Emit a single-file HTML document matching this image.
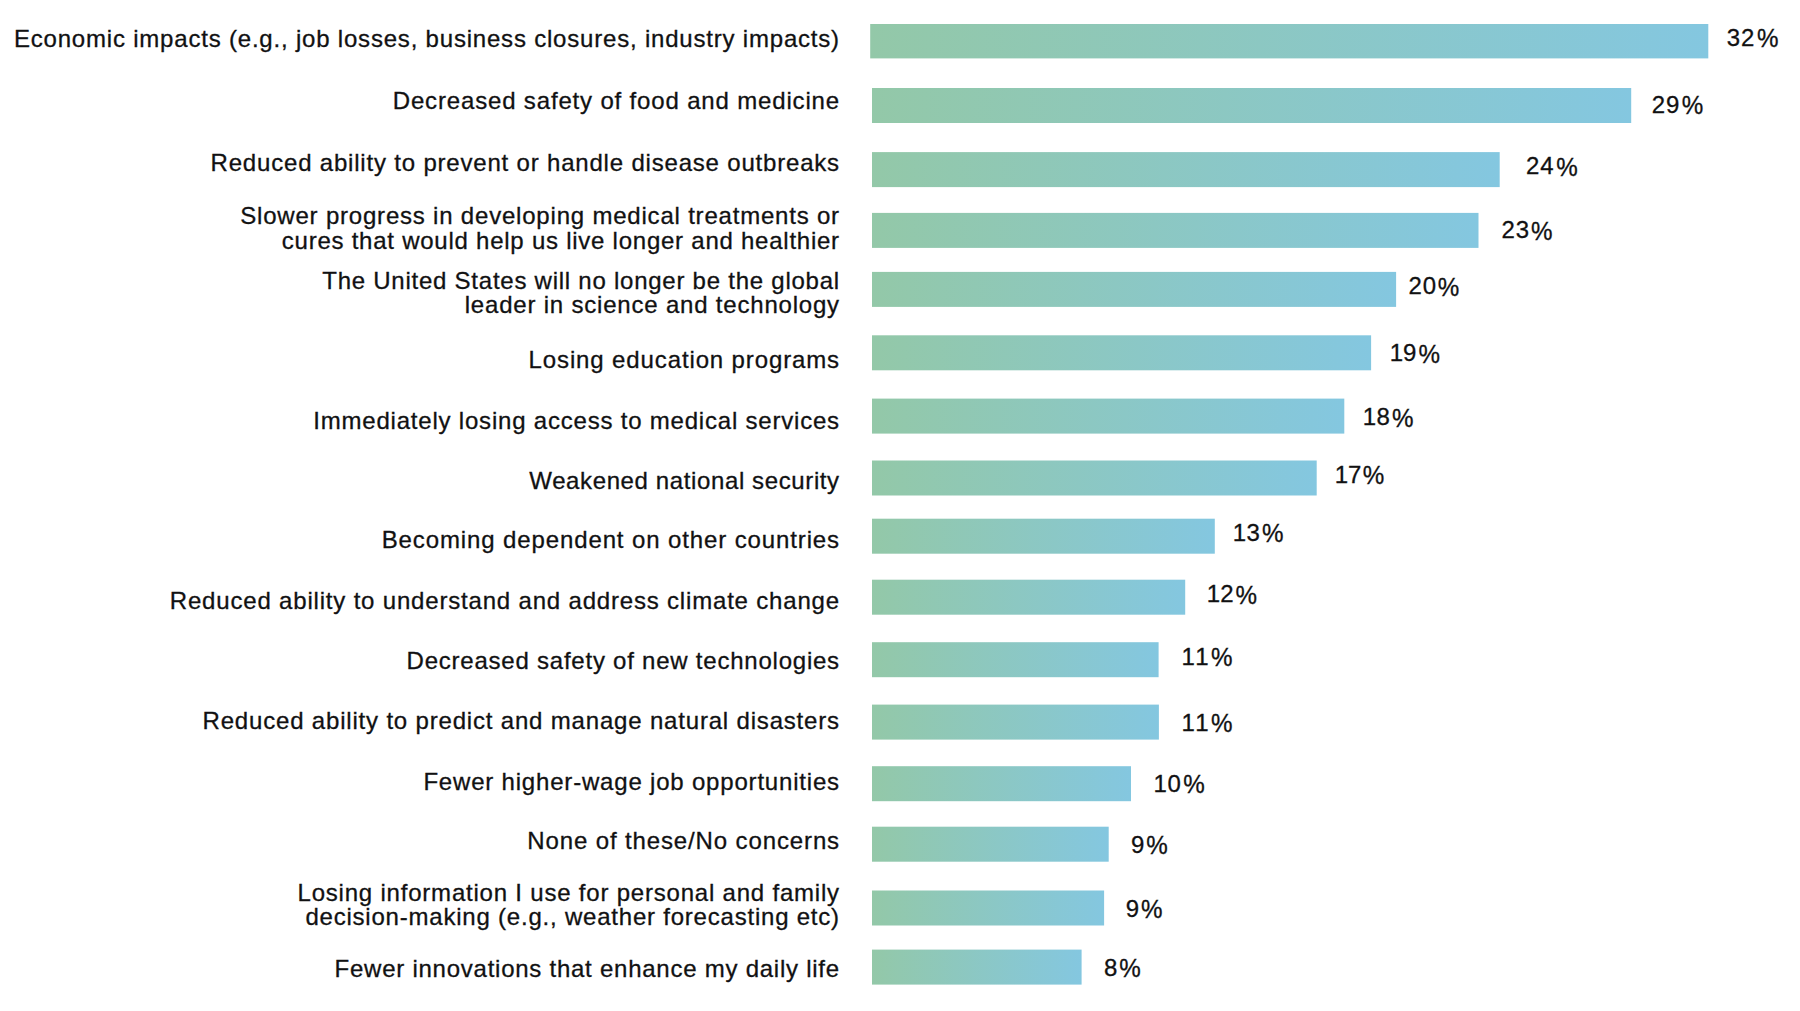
<!DOCTYPE html>
<html lang="en">
<head>
<meta charset="utf-8">
<title>Concerns chart</title>
<style>
html,body{margin:0;padding:0;background:#fff;}
body{width:1800px;height:1011px;position:relative;overflow:hidden;font-family:"Liberation Sans",sans-serif;color:#111112;-webkit-text-stroke:0.3px #111112;}
svg{position:absolute;left:0;top:0;}
.l{position:absolute;white-space:nowrap;text-align:right;font-size:24px;line-height:24px;}
.p{position:absolute;white-space:nowrap;font-size:24px;line-height:24px;letter-spacing:0.9px;-webkit-text-stroke:0.3px #111112;transform:scaleY(1.03);transform-origin:0 20.3px;}
.p i{display:inline-block;font-style:normal;font-size:24.2px;margin-left:0.9px;transform:translateY(0.7px) scaleY(1.07);transform-origin:50% 50%;}
.p b{font-weight:normal;}
</style>
</head>
<body>
<svg width="1800" height="1011" viewBox="0 0 1800 1011">
<defs><linearGradient id="g" x1="0" y1="0" x2="1" y2="0"><stop offset="0" stop-color="#93c8a8"/><stop offset="1" stop-color="#84c7e0"/></linearGradient></defs>
<rect x="870.20" y="24.00" width="838.10" height="34.40" fill="url(#g)"/>
<rect x="872.00" y="88.00" width="759.20" height="35.00" fill="url(#g)"/>
<rect x="872.00" y="152.10" width="627.70" height="35.00" fill="url(#g)"/>
<rect x="872.00" y="212.90" width="606.50" height="35.00" fill="url(#g)"/>
<rect x="872.00" y="271.90" width="524.10" height="35.00" fill="url(#g)"/>
<rect x="872.00" y="335.30" width="499.10" height="35.00" fill="url(#g)"/>
<rect x="872.00" y="398.60" width="472.30" height="35.00" fill="url(#g)"/>
<rect x="872.00" y="460.50" width="444.70" height="35.00" fill="url(#g)"/>
<rect x="872.00" y="518.70" width="342.80" height="35.00" fill="url(#g)"/>
<rect x="872.00" y="579.70" width="313.20" height="35.00" fill="url(#g)"/>
<rect x="872.00" y="642.20" width="286.60" height="35.00" fill="url(#g)"/>
<rect x="872.00" y="704.60" width="286.90" height="35.00" fill="url(#g)"/>
<rect x="872.00" y="766.20" width="259.00" height="35.00" fill="url(#g)"/>
<rect x="872.00" y="826.70" width="236.70" height="35.00" fill="url(#g)"/>
<rect x="872.00" y="890.50" width="232.10" height="35.00" fill="url(#g)"/>
<rect x="872.00" y="949.60" width="209.60" height="35.00" fill="url(#g)"/>
</svg>
<div class="l" style="top:26.58px;right:960.10px;letter-spacing:0.801px">Economic impacts (e.g., job losses, business closures, industry impacts)</div>
<div class="l" style="top:88.78px;right:960.06px;letter-spacing:0.836px">Decreased safety of food and medicine</div>
<div class="l" style="top:151.18px;right:960.09px;letter-spacing:0.808px">Reduced ability to prevent or handle disease outbreaks</div>
<div class="l" style="top:204.08px;right:960.10px;letter-spacing:0.798px">Slower progress in developing medical treatments or</div>
<div class="l" style="top:228.58px;right:960.14px;letter-spacing:0.755px">cures that would help us live longer and healthier</div>
<div class="l" style="top:269.08px;right:960.15px;letter-spacing:0.753px">The United States will no longer be the global</div>
<div class="l" style="top:292.98px;right:960.10px;letter-spacing:0.800px">leader in science and technology</div>
<div class="l" style="top:347.58px;right:960.02px;letter-spacing:0.875px">Losing education programs</div>
<div class="l" style="top:408.78px;right:960.10px;letter-spacing:0.795px">Immediately losing access to medical services</div>
<div class="l" style="top:468.68px;right:960.28px;letter-spacing:0.616px">Weakened national security</div>
<div class="l" style="top:528.48px;right:960.02px;letter-spacing:0.883px">Becoming dependent on other countries</div>
<div class="l" style="top:588.98px;right:960.08px;letter-spacing:0.816px">Reduced ability to understand and address climate change</div>
<div class="l" style="top:649.08px;right:960.13px;letter-spacing:0.769px">Decreased safety of new technologies</div>
<div class="l" style="top:709.38px;right:960.08px;letter-spacing:0.819px">Reduced ability to predict and manage natural disasters</div>
<div class="l" style="top:769.58px;right:960.09px;letter-spacing:0.809px">Fewer higher-wage job opportunities</div>
<div class="l" style="top:829.38px;right:960.02px;letter-spacing:0.875px">None of these/No concerns</div>
<div class="l" style="top:880.78px;right:960.11px;letter-spacing:0.794px">Losing information I use for personal and family</div>
<div class="l" style="top:905.08px;right:960.12px;letter-spacing:0.785px">decision-making (e.g., weather forecasting etc)</div>
<div class="l" style="top:956.88px;right:960.15px;letter-spacing:0.751px">Fewer innovations that enhance my daily life</div>
<div class="p" style="left:1726.80px;top:26px;transform:translateY(0.13px) scaleY(1.03)">32<i style="margin-left:1.7px">%</i></div>
<div class="p" style="left:1651.70px;top:92px;transform:translateY(0.83px) scaleY(1.03)">29<i style="margin-left:1.5px">%</i></div>
<div class="p" style="left:1526.00px;top:154px;transform:translateY(0.23px) scaleY(1.03)">24<i style="margin-left:1.7px">%</i></div>
<div class="p" style="left:1501.50px;top:218px;transform:translateY(0.43px) scaleY(1.03)">23<i style="margin-left:0.9px">%</i></div>
<div class="p" style="left:1408.40px;top:274px;transform:translateY(0.23px) scaleY(1.03)">20<i style="margin-left:0.9px">%</i></div>
<div class="p" style="left:1389.80px;top:341px;transform:translateY(0.33px) scaleY(1.03)"><b style="letter-spacing:-0.1px">1</b>9<i style="margin-left:1.1px">%</i></div>
<div class="p" style="left:1362.80px;top:405px;transform:translateY(0.23px) scaleY(1.03)"><b style="letter-spacing:0.4px">1</b>8<i style="margin-left:1.1px">%</i></div>
<div class="p" style="left:1334.70px;top:462px;transform:translateY(0.83px) scaleY(1.03)"><b style="letter-spacing:-0.1px">1</b>7<i style="margin-left:0.6px">%</i></div>
<div class="p" style="left:1232.80px;top:521px;transform:translateY(0.13px) scaleY(1.03)"><b style="letter-spacing:0.4px">1</b>3<i style="margin-left:1.1px">%</i></div>
<div class="p" style="left:1206.70px;top:582px;transform:translateY(0.43px) scaleY(1.03)"><b style="letter-spacing:0.2px">1</b>2<i style="margin-left:0.9px">%</i></div>
<div class="p" style="left:1181.40px;top:644px;transform:translateY(0.93px) scaleY(1.03)"><b style="letter-spacing:0.6px">1</b>1<i style="margin-left:1.3px">%</i></div>
<div class="p" style="left:1181.40px;top:710px;transform:translateY(0.73px) scaleY(1.03)"><b style="letter-spacing:0.6px">1</b>1<i style="margin-left:1.3px">%</i></div>
<div class="p" style="left:1153.50px;top:771px;transform:translateY(0.73px) scaleY(1.03)"><b style="letter-spacing:0.75px">1</b>0<i style="margin-left:1.3px">%</i></div>
<div class="p" style="left:1131.00px;top:832px;transform:translateY(0.83px) scaleY(1.03)">9<i style="margin-left:0.9px">%</i></div>
<div class="p" style="left:1125.80px;top:896px;transform:translateY(0.93px) scaleY(1.03)">9<i style="margin-left:0.9px">%</i></div>
<div class="p" style="left:1104.10px;top:955px;transform:translateY(0.63px) scaleY(1.03)">8<i style="margin-left:0.9px">%</i></div>
</body>
</html>
